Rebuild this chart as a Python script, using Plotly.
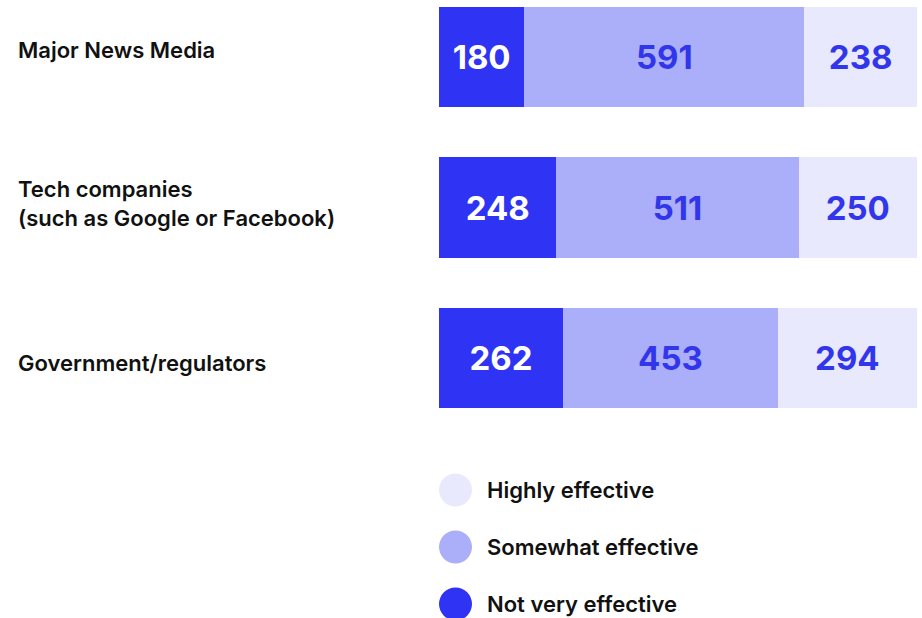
import plotly.graph_objects as go

# Survey: perceived effectiveness of each actor
categories = ["Major News Media", "Tech companies<br>(such as Google or Facebook)", "Government/regulators"]
not_very = [180, 248, 262]
somewhat = [591, 511, 453]
highly = [238, 250, 294]

series_names = ["Not very effective", "Somewhat effective", "Highly effective"]
series_values = [not_very, somewhat, highly]
series_colors = ["#2F33F3", "#ABAEF8", "#E9E9FD"]
text_colors = ["#FFFFFF", "#3236EA", "#3236EA"]

W, H = 922, 618
FONT = "Inter"
positions = list(range(len(categories)))

fig = go.Figure()
for name, vals, col, tcol in zip(series_names, series_values, series_colors, text_colors):
    fig.add_trace(go.Bar(
        y=positions, x=vals, orientation="h", name=name,
        marker=dict(color=col, line=dict(width=0)),
        width=0.665,
        text=[str(v) for v in vals], textposition="inside",
        insidetextanchor="middle",
        textfont=dict(family=FONT, size=33, color=tcol, weight=700),
        hoverinfo="skip", showlegend=False,
    ))

total = max(a + b + c for a, b, c in zip(not_very, somewhat, highly))

# category labels, left-aligned at the page edge, nudged vertically per row
plot_left, plot_right = 439, W - 5
label_shift_px = [7, 4, -5]
for pos, cat, dy in zip(positions, categories, label_shift_px):
    fig.add_annotation(
        x=(16 - plot_left) / (plot_right - plot_left), xref="paper", xanchor="left",
        y=pos, yref="y", yanchor="middle", yshift=dy, align="left",
        text=cat, showarrow=False,
        font=dict(family=FONT, size=22, color="#111111", weight=600),
    )

# legend: large round swatches with labels, drawn top to bottom
legend_rows = [490, 547, 604]
for row_px, name, col in zip(legend_rows, series_names[::-1], series_colors[::-1]):
    yp = 1 - row_px / H
    fig.add_shape(
        type="circle", xref="paper", yref="paper",
        xsizemode="pixel", ysizemode="pixel",
        xanchor=(455.5 - plot_left) / (plot_right - plot_left), yanchor=yp,
        x0=-16.5, x1=16.5, y0=-16.5, y1=16.5,
        fillcolor=col, line=dict(width=0),
    )
    fig.add_annotation(
        x=(485 - plot_left) / (plot_right - plot_left), xref="paper", xanchor="left",
        y=yp, yref="paper", yanchor="middle",
        text=name, showarrow=False,
        font=dict(family=FONT, size=22, color="#111111", weight=600),
    )

px_per_unit = 150.5
top_center = 57
fig.update_layout(
    width=W, height=H,
    margin=dict(l=plot_left, r=W - plot_right, t=0, b=0),
    barmode="stack",
    paper_bgcolor="white", plot_bgcolor="white",
    uniformtext=dict(minsize=10, mode="show"),
    xaxis=dict(range=[0, total], visible=False, fixedrange=True),
    yaxis=dict(range=[(H - top_center) / px_per_unit, -top_center / px_per_unit],
               visible=False, fixedrange=True),
    showlegend=False,
)

fig.write_html("out.html")
